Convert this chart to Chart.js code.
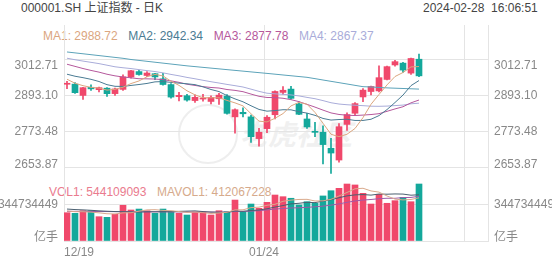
<!DOCTYPE html>
<html>
<head>
<meta charset="utf-8">
<script src="https://cdn.jsdelivr.net/npm/chart.js@4.4.1/dist/chart.umd.min.js"></script>
<style>
  body { margin: 0; width: 552px; height: 265px; position: relative; overflow: hidden; background: #fff;
         font-family: "Liberation Sans", Arial, "Noto Sans CJK SC", sans-serif; font-size: 12px; }
  .txt { position: absolute; white-space: pre; line-height: 14px; }
  .txt span { margin-right: 10.6px; }
  #priceBox { position: absolute; left: 0; top: 25px; width: 552px; height: 150px; }
  #volBox { position: absolute; left: 0; top: 175px; width: 552px; height: 90px; }
  #mark { position: absolute; left: 178px; top: 104px; width: 56px; height: 56px; border: 2px solid #eeeeee; border-radius: 50%; }
  #markText { position: absolute; left: 240px; top: 117px; font: italic bold 28px "Noto Sans CJK SC", sans-serif; color: #f0f0f0; line-height: 32px; white-space: pre; }
</style>
</head>
<body>
<div id="mark"></div>
<div id="markText">老虎社区</div>
<div class="txt" id="title" style="left:21px;top:1px;color:#444"></div>
<div class="txt" id="stamp" style="left:423px;top:1px;color:#444"></div>
<div class="txt" id="maLegend" style="left:43px;top:29px"></div>
<div class="txt" id="volLegend" style="left:49px;top:185px"></div>
<div id="priceBox"><canvas id="price" width="552" height="150"></canvas></div>
<div id="volBox"><canvas id="vol" width="552" height="90"></canvas></div>
<script>
const titleText = "000001.SH 上证指数 - 日K";
const stampText = "2024-02-28  16:06:51";

const dates = ["12/19","12/20","12/21","12/22","12/25","12/26","12/27","12/28","12/29",
  "01/02","01/03","01/04","01/05","01/08","01/09","01/10","01/11","01/12","01/15","01/16",
  "01/17","01/18","01/19","01/22","01/23","01/24","01/25","01/26","01/29","01/30","01/31",
  "02/01","02/02","02/05","02/06","02/07","02/08","02/19","02/20","02/21","02/22","02/23",
  "02/26","02/27","02/28"];

const opens = [2930.0, 2930.5, 2893.0, 2920.0, 2912.0, 2917.0, 2899.0, 2913.0, 2954.0, 2972.0,
  2959.0, 2965.0, 2948.0, 2929.0, 2889.0, 2892.0, 2876.0, 2881.0, 2873.0, 2882.0,
  2891.0, 2822.0, 2837.0, 2822.0, 2750.0, 2783.0, 2829.0, 2903.0, 2914.0, 2865.0,
  2815.0, 2772.0, 2771.0, 2718.0, 2679.0, 2797.0, 2834.0, 2888.0, 2906.0, 2908.0,
  2946.0, 2994.0, 3000.0, 2967.0, 3013.0];
const highs = [2940, 2936, 2920, 2928, 2921, 2919, 2917, 2961, 2976, 2976,
  2972, 2966, 2966, 2932, 2903, 2897, 2895, 2897, 2892, 2900,
  2896, 2849, 2852, 2828, 2784, 2826, 2908, 2922, 2923, 2872,
  2834, 2804, 2792, 2751, 2800, 2835, 2869, 2916, 2924, 2991,
  2990, 3009, 3003, 3017, 3030];
const lows = [2915, 2900, 2880, 2910, 2905, 2890, 2893, 2910, 2950, 2960,
  2955, 2945, 2927, 2884, 2875, 2874, 2870, 2874, 2865, 2863,
  2831, 2768, 2822, 2737, 2725, 2770, 2815, 2896, 2881, 2829,
  2784, 2756, 2666, 2635, 2672, 2777, 2828, 2872, 2895, 2905,
  2944, 2990, 2969, 2963, 2955];
const closes = [2932.39, 2902.11, 2918.72, 2914.78, 2918.81, 2898.87, 2914.61, 2954.70, 2974.93, 2962.28,
  2967.25, 2954.35, 2929.18, 2887.54, 2893.25, 2877.70, 2886.65, 2881.98, 2886.29, 2893.99,
  2833.62, 2845.78, 2832.28, 2756.34, 2770.98, 2820.77, 2906.11, 2910.22, 2883.36, 2830.53,
  2788.55, 2770.74, 2730.15, 2702.19, 2789.49, 2829.70, 2865.90, 2910.54, 2922.73, 2951.86,
  2988.36, 3004.88, 2977.02, 3015.48, 2957.85];

const ma5 = [2946.70, 2933.37, 2925.32, 2919.76, 2917.36, 2910.66, 2913.16, 2920.35, 2932.38, 2941.08,
  2954.75, 2962.70, 2957.60, 2940.12, 2926.31, 2908.40, 2894.86, 2885.42, 2885.17, 2885.32,
  2876.51, 2868.33, 2858.39, 2832.40, 2807.80, 2805.23, 2817.30, 2832.88, 2858.29, 2870.20,
  2863.75, 2836.68, 2800.67, 2764.43, 2756.22, 2764.45, 2783.49, 2819.56, 2863.67, 2896.15,
  2927.88, 2955.67, 2968.97, 2987.52, 2988.72];
const ma10 = [2963.30, 2956.62, 2951.87, 2946.39, 2939.13, 2928.68, 2923.26, 2922.84, 2926.07, 2929.22,
  2932.71, 2937.93, 2938.98, 2936.25, 2933.70, 2931.58, 2928.78, 2921.51, 2912.65, 2905.82,
  2892.46, 2881.60, 2871.91, 2858.79, 2846.56, 2840.87, 2842.81, 2845.64, 2845.35, 2839.00,
  2834.49, 2826.99, 2816.78, 2811.36, 2813.21, 2814.10, 2810.08, 2810.12, 2814.05, 2826.19,
  2846.17, 2869.58, 2894.27, 2925.60, 2942.34];
const ma20 = [2996.40, 2989.32, 2982.16, 2975.85, 2970.21, 2963.23, 2957.87, 2954.12, 2951.29, 2948.26,
  2948.00, 2947.27, 2945.42, 2941.32, 2936.41, 2930.13, 2926.02, 2922.17, 2919.36, 2917.52,
  2912.58, 2909.76, 2905.44, 2897.52, 2890.13, 2886.22, 2885.80, 2883.57, 2879.00, 2872.41,
  2863.47, 2854.29, 2844.34, 2835.07, 2829.89, 2827.49, 2826.45, 2827.88, 2829.70, 2832.59,
  2840.33, 2848.28, 2855.52, 2868.48, 2877.78];
const ma30 = [3016.32, 3011.31, 3006.82, 3002.68, 2998.43, 2993.19, 2987.91, 2984.70, 2982.06, 2978.52,
  2975.17, 2972.19, 2967.77, 2962.65, 2958.04, 2952.68, 2948.18, 2943.25, 2938.41, 2934.11,
  2929.49, 2925.38, 2920.92, 2913.81, 2906.46, 2900.38, 2898.29, 2896.66, 2894.69, 2891.35,
  2886.55, 2882.17, 2875.89, 2868.80, 2864.49, 2862.18, 2860.56, 2859.09, 2857.35, 2857.00,
  2857.70, 2859.39, 2860.98, 2865.25, 2867.37];
// long average, drawn but not listed in the legend
const ma60 = [3037, 3034, 3031, 3028, 3025, 3022, 3019, 3016, 3012, 3009,
  3006, 3003, 3000, 2997, 2994, 2991, 2988.5, 2986, 2983.5, 2981,
  2978.5, 2976, 2973.5, 2971, 2968.5, 2966, 2963.4, 2960.8, 2958.2, 2955.6,
  2953, 2948.6, 2944.1, 2939.7, 2935.3, 2930.9, 2926.4, 2922, 2921, 2919.5,
  2918, 2917, 2916, 2915, 2914];

const volumes = [270e6, 264e6, 289e6, 289e6, 232e6, 226e6, 255e6, 341e6, 296e6, 305e6,
  289e6, 264e6, 305e6, 284e6, 264e6, 248e6, 277e6, 277e6, 248e6, 289e6,
  280e6, 391e6, 280e6, 353e6, 312e6, 369e6, 439e6, 423e6, 408e6, 344e6,
  375e6, 360e6, 430e6, 480e6, 503e6, 544e6, 535e6, 455e6, 353e6, 446e6,
  360e6, 385e6, 417e6, 375e6, 544109093];
const mavol5 = [287e6, 279.8e6, 279.6e6, 275.4e6, 268.8e6, 260e6, 258.2e6, 268.6e6, 270e6, 284.6e6,
  297.2e6, 299e6, 291.8e6, 289.4e6, 281.2e6, 273e6, 275.6e6, 270e6, 262.8e6, 267.8e6,
  274.2e6, 297e6, 297.6e6, 318.6e6, 323.2e6, 341e6, 350.6e6, 379.2e6, 390.2e6, 396.6e6,
  397.8e6, 382e6, 383.4e6, 397.8e6, 429.6e6, 463.4e6, 498.4e6, 503.4e6, 478e6, 466.6e6,
  429.8e6, 399.8e6, 392.2e6, 396.6e6, 412067228];
const mavol10 = [305e6, 300e6, 297e6, 293e6, 288e6, 284e6, 281e6, 280e6, 278e6, 276.7e6,
  278.6e6, 278.6e6, 280.2e6, 279.7e6, 282.9e6, 285.1e6, 287.3e6, 280.9e6, 276.1e6, 274.5e6,
  273.6e6, 286.3e6, 283.8e6, 290.7e6, 295.5e6, 307.6e6, 323.8e6, 338.4e6, 354.4e6, 359.9e6,
  369.4e6, 366.3e6, 381.3e6, 394e6, 413.1e6, 430.6e6, 440.2e6, 443.4e6, 437.9e6, 448.1e6,
  446.6e6, 449.1e6, 447.8e6, 437.3e6, 441.4e6];
const mavol20 = [283e6, 283e6, 282e6, 282e6, 281e6, 281e6, 280e6, 280e6, 280e6, 279e6,
  279e6, 279e6, 278e6, 278e6, 277e6, 277e6, 276e6, 276e6, 276e6, 275.6e6,
  276.1e6, 282.5e6, 282e6, 285.2e6, 289.2e6, 296.4e6, 305.6e6, 309.7e6, 315.3e6, 317.2e6,
  321.5e6, 326.3e6, 332.6e6, 342.4e6, 354.3e6, 369.1e6, 382e6, 390.9e6, 396.2e6, 404e6,
  408e6, 407.7e6, 414.6e6, 415.7e6, 427.3e6];

const priceTicks = [2653.87, 2773.48, 2893.10, 3012.71];
const volTicks = [0, 344734449];
const volTickLabels = ["亿手", "344734449"];
const xTickSlots = [0, 25, 50];

const maNames = ["MA1", "MA2", "MA3", "MA4"];

// colours
const red = "#f0486b";
const green = "#14a89b";
const gridColor = "#e4e4e4";
const axisText = "#888";
const maColors = ["#dba67f", "#4a7b93", "#b5589c", "#a9acd9"];
const ma60Color = "#5ca3b9";
const volLineColors = ["#d9a98b", "#4b5f70", "#a05aa8"];

// ---- text on top ----
document.getElementById("title").textContent = titleText;
document.getElementById("stamp").textContent = stampText;
const maLast = [ma5, ma10, ma20, ma30].map(a => a[a.length - 1]);
document.getElementById("maLegend").innerHTML = maNames
  .map((n, i) => `<span style="color:${maColors[i]}">${n}: ${maLast[i].toFixed(2)}</span>`).join("");
document.getElementById("volLegend").innerHTML =
  `<span style="color:#ea7b8e">VOL1: ${volumes[volumes.length - 1]}</span>` +
  `<span style="color:#d6aa8c">MAVOL1: ${mavol5[mavol5.length - 1]}</span>`;

const slot = i => i + 0.375; // candle sits on the left part of its 8px slot
const candleColors = closes.map((c, i) => c >= opens[i] ? red : green);
const FONT = '12px "Liberation Sans", Arial, "Noto Sans CJK SC", sans-serif';

// y labels on both sides, with a baseline per tick so the edge ones stay inside
function makeSideLabels(labels, baselines) {
  return {
    id: "sideLabels",
    afterDraw(chart) {
      const ctx = chart.ctx;
      ctx.save();
      ctx.font = FONT;
      ctx.fillStyle = axisText;
      ["yL", "yR"].forEach(id => {
        const s = chart.scales[id];
        labels.forEach((lab, i) => {
          const y = s.getPixelForValue(s.ticks[i].value);
          ctx.textBaseline = baselines[i];
          if (id === "yL") { ctx.textAlign = "right"; ctx.fillText(lab, s.right - 6, y); }
          else { ctx.textAlign = "left"; ctx.fillText(lab, s.left + 6, y); }
        });
      });
      ctx.restore();
    }
  };
}

function lineSet(values, color, order) {
  return {
    type: "line", yAxisID: "yL", data: values.map((v, i) => ({ x: slot(i), y: v })),
    borderColor: color, borderWidth: 1, pointRadius: 0, tension: 0, order
  };
}

function yAxis(pos, min, max, ticks, drawGrid) {
  return {
    position: pos, min, max,
    afterBuildTicks: s => { s.ticks = ticks.map(v => ({ value: v })); },
    ticks: { display: false },
    grid: { display: drawGrid, drawTicks: false, color: c => (c.tick && c.tick.value > 0) ? gridColor : "rgba(0,0,0,0)" },
    border: { display: true, color: gridColor },
    afterFit: s => { s.width = 64; }
  };
}

const xGrid = { offset: false, drawTicks: false, color: c => (c.tick && c.tick.value > 0) ? gridColor : "rgba(0,0,0,0)" };

// ---- price panel ----
new Chart(document.getElementById("price"), {
  type: "bar",
  data: {
    datasets: [
      lineSet(ma5, maColors[0], 0),
      lineSet(ma10, maColors[1], 0),
      lineSet(ma20, maColors[2], 0),
      lineSet(ma30, maColors[3], 0),
      lineSet(ma60, ma60Color, 0),
      {
        yAxisID: "yL",
        data: opens.map((o, i) => ({ x: slot(i), y: [o, closes[i]] })),
        backgroundColor: candleColors, barThickness: 6, minBarLength: 1, grouped: false, order: 2
      },
      {
        yAxisID: "yL",
        data: lows.map((l, i) => ({ x: slot(i), y: [l, highs[i]] })),
        backgroundColor: candleColors, barThickness: 1, grouped: false, order: 3
      }
    ]
  },
  options: {
    responsive: false, animation: false,
    layout: { padding: 0 },
    plugins: { legend: { display: false }, tooltip: { enabled: false } },
    scales: {
      x: {
        type: "linear", min: 0, max: 53, offset: false,
        afterBuildTicks: s => { s.ticks = xTickSlots.map(v => ({ value: v })); },
        ticks: { display: false }, grid: xGrid, border: { display: false },
        afterFit: s => { s.height = 0; }
      },
      yL: yAxis("left", 2629.4, 3126.35, priceTicks, true),
      yR: yAxis("right", 2629.4, 3126.35, priceTicks, false)
    }
  },
  plugins: [makeSideLabels(priceTicks.map(v => v.toFixed(2)), ["alphabetic", "middle", "middle", "top"])]
});

// ---- volume panel ----
new Chart(document.getElementById("vol"), {
  type: "bar",
  data: {
    datasets: [
      lineSet(mavol5, volLineColors[0], 0),
      lineSet(mavol10, volLineColors[1], 0),
      lineSet(mavol20, volLineColors[2], 0),
      {
        yAxisID: "yL",
        data: volumes.map((v, i) => ({ x: slot(i), y: v })),
        backgroundColor: candleColors, barThickness: 6, grouped: false, order: 2
      }
    ]
  },
  options: {
    responsive: false, animation: false,
    layout: { padding: 0 },
    plugins: { legend: { display: false }, tooltip: { enabled: false } },
    scales: {
      x: {
        type: "linear", min: 0, max: 53, offset: false,
        afterBuildTicks: s => { s.ticks = xTickSlots.map(v => ({ value: v })); },
        ticks: {
          autoSkip: false, maxRotation: 0, align: "inner", padding: 4, color: axisText,
          font: { family: '"Liberation Sans", Arial, sans-serif', size: 12 },
          callback: v => dates[v] || ""
        },
        grid: xGrid, border: { display: true, color: gridColor },
        afterFit: s => { s.height = 24; }
      },
      yL: yAxis("left", 0, 630e6, volTicks, true),
      yR: yAxis("right", 0, 630e6, volTicks, false)
    }
  },
  plugins: [makeSideLabels(volTickLabels, ["alphabetic", "middle"])]
});
</script>
</body>
</html>
